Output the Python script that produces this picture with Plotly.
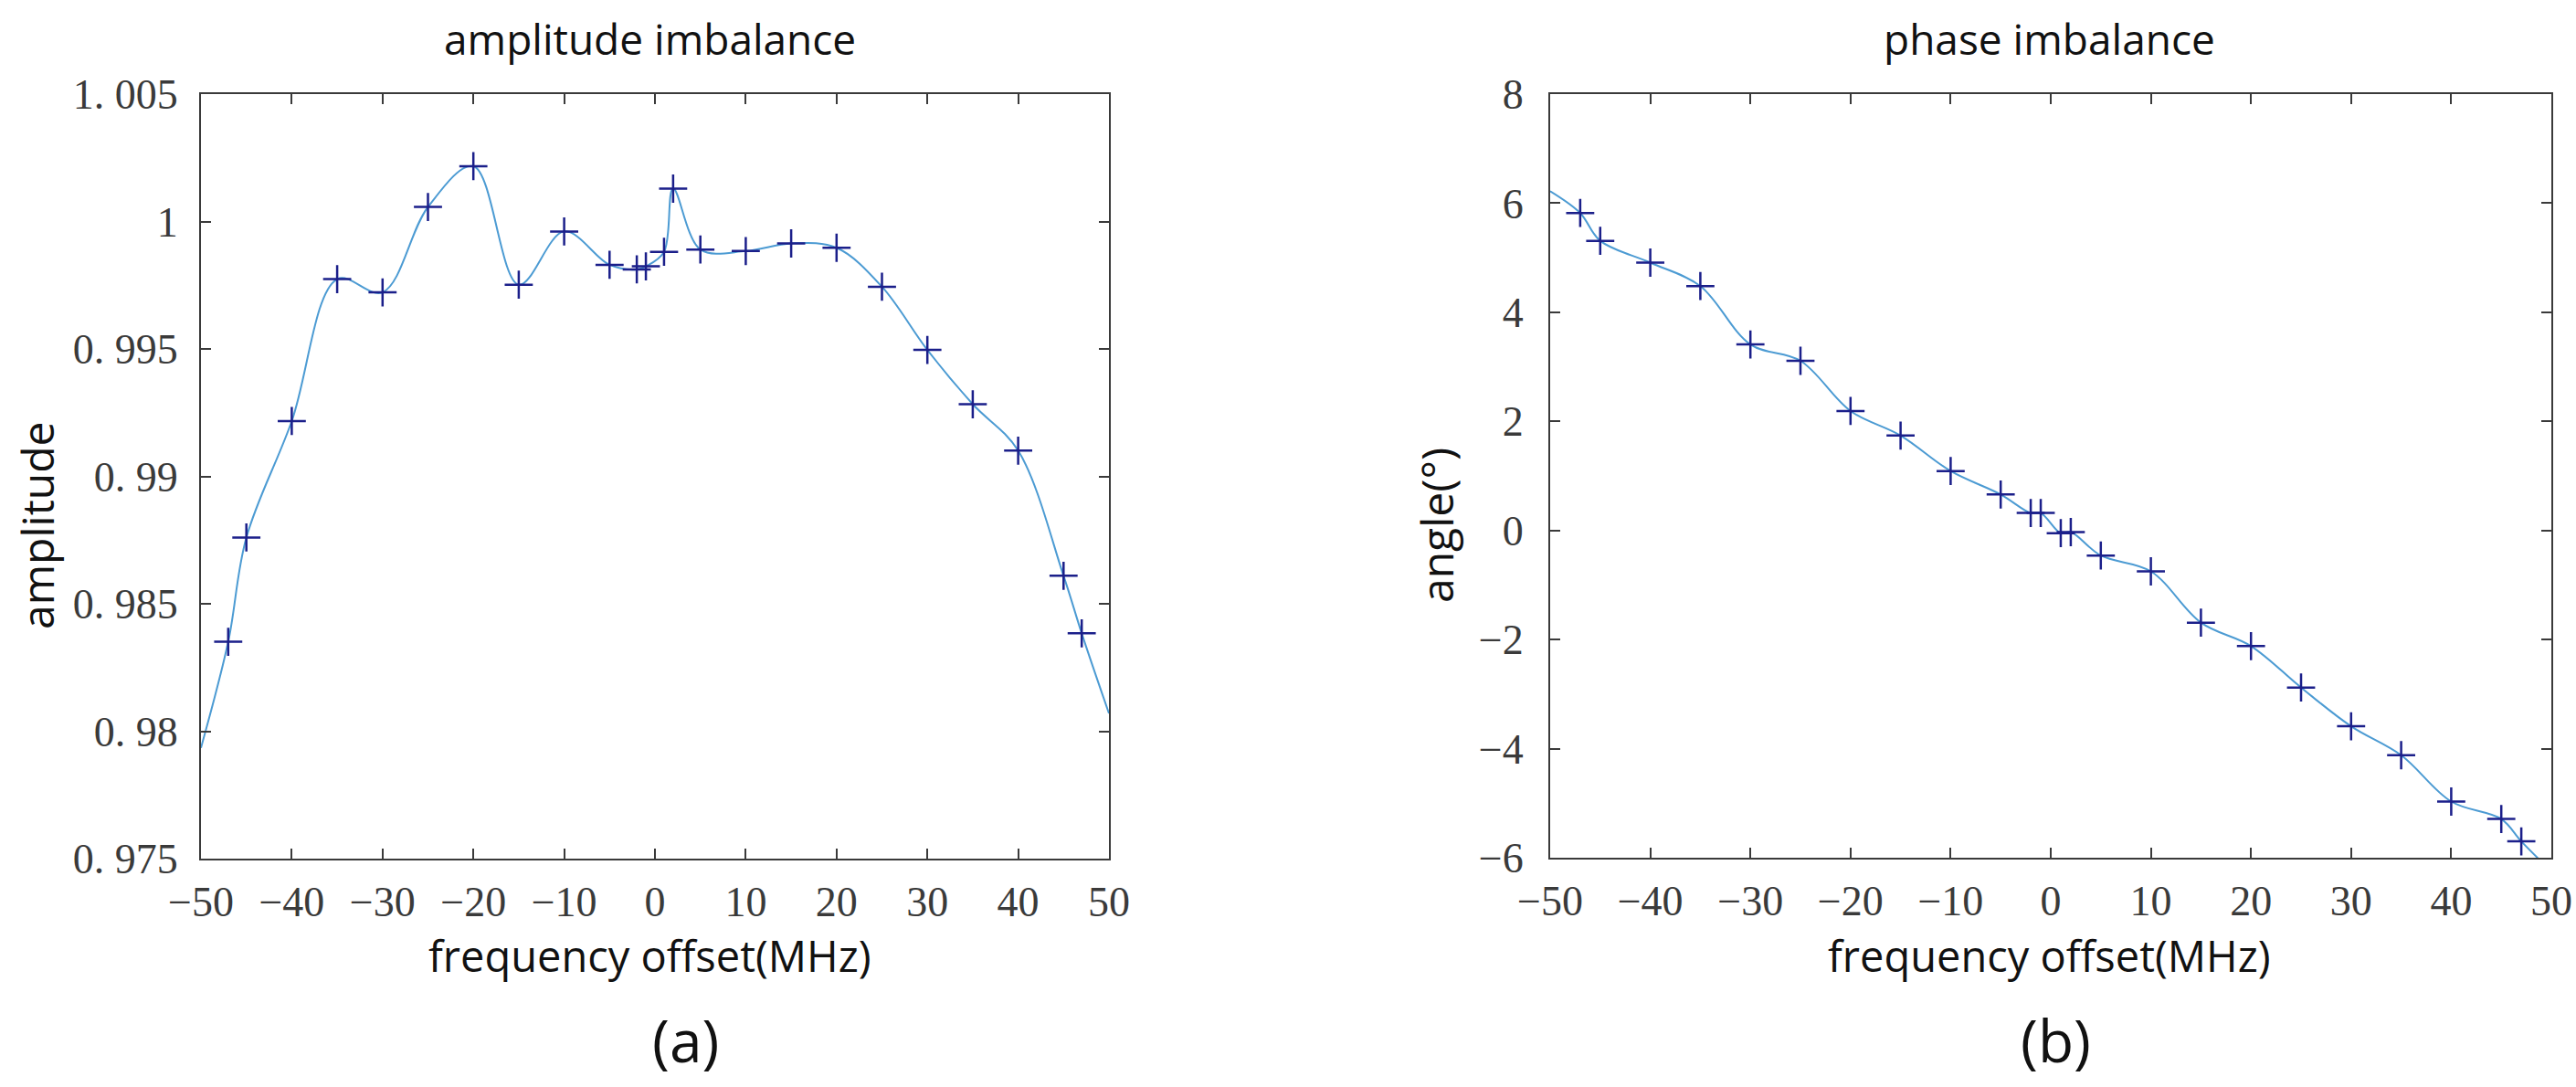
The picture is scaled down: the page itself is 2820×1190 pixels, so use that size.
import plotly.graph_objects as go

# ---------------- data ----------------
freq = [-47, -45, -40, -35, -30, -25, -20, -15, -10, -5, -2, -1, 1, 2, 5, 10, 15, 20, 25, 30, 35, 40, 45, 47]
amplitude = [0.98351, 0.98760, 0.99217, 0.99774, 0.99722, 1.00057, 1.00217, 0.99752, 0.99961, 0.99830,
             0.99812, 0.99824, 0.99881, 1.00129, 0.99890, 0.99884, 0.99914, 0.99897, 0.99744, 0.99496,
             0.99283, 0.99101, 0.98610, 0.98384]
phase = [5.82, 5.31, 4.91, 4.48, 3.41, 3.11, 2.19, 1.74, 1.09, 0.66, 0.32, 0.32, -0.05, -0.03, -0.46,
         -0.75, -1.69, -2.12, -2.88, -3.59, -4.12, -4.97, -5.29, -5.70]
# values of the fitted curves at the band edges
edge_freq = [-50, 50]
amp_edge = [0.97935, 0.9807]
phase_edge = [6.22, -6.25]

x_ticks = [-50, -40, -30, -20, -10, 0, 10, 20, 30, 40, 50]
x_ticktext = ["\u221250", "\u221240", "\u221230", "\u221220", "\u221210", "0", "10", "20", "30", "40", "50"]
amp_ticks = [0.975, 0.98, 0.985, 0.99, 0.995, 1.0, 1.005]
amp_ticktext = ["0. 975", "0. 98", "0. 985", "0. 99", "0. 995", "1", "1. 005"]
phase_ticks = [-6, -4, -2, 0, 2, 4, 6, 8]
phase_ticktext = ["\u22126", "\u22124", "\u22122", "0", "2", "4", "6", "8"]

# ---------------- layout helpers ----------------
W, H = 2820, 1190
def px(x):
    return x / W
def py(y):
    return 1 - y / H

LINE_COLOR = "#4c9bd3"
MARK_COLOR = "#1b1f8a"
SANS = "Open Sans"
SERIF = "Liberation Serif"

fig = go.Figure()

# left panel
fig.add_trace(go.Scatter(x=[edge_freq[0]] + freq + [edge_freq[1]],
                         y=[amp_edge[0]] + amplitude + [amp_edge[1]],
                         mode="lines", line=dict(color=LINE_COLOR, width=2, shape="spline", smoothing=1.0),
                         xaxis="x", yaxis="y", showlegend=False, hoverinfo="skip"))
fig.add_trace(go.Scatter(x=freq, y=amplitude, mode="markers",
                         marker=dict(symbol="cross-thin", size=22, line=dict(color=MARK_COLOR, width=2.5)),
                         xaxis="x", yaxis="y", showlegend=False))

# right panel
fig.add_trace(go.Scatter(x=[edge_freq[0]] + freq + [edge_freq[1]],
                         y=[phase_edge[0]] + phase + [phase_edge[1]],
                         mode="lines", line=dict(color=LINE_COLOR, width=2, shape="spline", smoothing=1.0),
                         xaxis="x2", yaxis="y2", showlegend=False, hoverinfo="skip"))
fig.add_trace(go.Scatter(x=freq, y=phase, mode="markers",
                         marker=dict(symbol="cross-thin", size=22, line=dict(color=MARK_COLOR, width=2.5)),
                         xaxis="x2", yaxis="y2", showlegend=False))

axis_common = dict(showline=True, linecolor="#3a3a3a", linewidth=2, mirror="ticks",
                   ticks="inside", ticklen=11, tickwidth=1.5, tickcolor="#3a3a3a",
                   showgrid=False, zeroline=False, automargin=False,
                   tickfont=dict(family=SERIF, size=46, color="#3a3a3a"))

fig.update_layout(
    width=W, height=H,
    margin=dict(l=0, r=0, t=0, b=0),
    paper_bgcolor="white", plot_bgcolor="white",
    xaxis=dict(domain=[px(220), px(1214)], range=[-50, 50], tickvals=x_ticks, ticktext=x_ticktext,
               anchor="y", ticklabelstandoff=6, **axis_common),
    yaxis=dict(domain=[py(940), py(103)], range=[0.975, 1.005], tickvals=amp_ticks, ticktext=amp_ticktext,
               anchor="x", ticklabelstandoff=14, **axis_common),
    xaxis2=dict(domain=[px(1697), px(2793)], range=[-50, 50], tickvals=x_ticks, ticktext=x_ticktext,
                anchor="y2", ticklabelstandoff=6, **axis_common),
    yaxis2=dict(domain=[py(939), py(103)], range=[-6, 8], tickvals=phase_ticks, ticktext=phase_ticktext,
                anchor="x2", ticklabelstandoff=18, **axis_common),
)

def label(text, x, y, size, angle=0):
    fig.add_annotation(text=text, x=px(x), y=py(y), xref="paper", yref="paper",
                       xanchor="center", yanchor="middle", showarrow=False, textangle=angle,
                       font=dict(family=SANS, size=size, color="#111111"))

label("amplitude imbalance", 712, 42, 46)
label("phase imbalance", 2243, 42, 46)
label("frequency offset(MHz)", 712, 1046, 47)
label("frequency offset(MHz)", 2243, 1046, 47)
label("amplitude", 40, 575, 48, -90)
label("angle(\u00b0)", 1572, 575, 48, -90)
label("(a)", 750, 1138, 64)
label("(b)", 2250, 1138, 64)

fig.write_html(
    "out.html",
    config={"displayModeBar": False},
    post_script="document.body.style.margin='0';document.body.style.overflow='hidden';",
)
